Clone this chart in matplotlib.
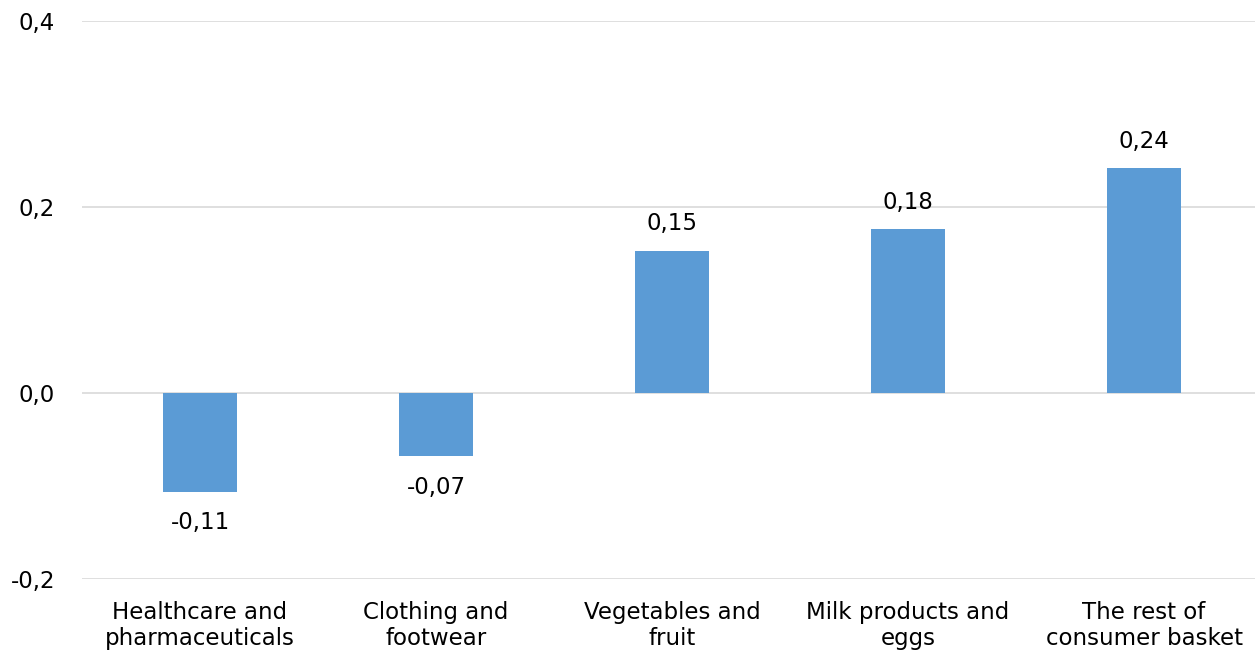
import matplotlib.pyplot as plt

categories = [
    "Healthcare and\npharmaceuticals",
    "Clothing and\nfootwear",
    "Vegetables and\nfruit",
    "Milk products and\neggs",
    "The rest of\nconsumer basket",
]
values = [-0.106, -0.068, 0.153, 0.176, 0.242]
yticks = [-0.2, 0.0, 0.2, 0.4]

BAR_COLOR = "#5b9bd5"
GRID_COLOR = "#d9d9d9"
FS = 16.5

plt.rcParams["font.family"] = ["DejaVu Sans"]

fig = plt.figure(figsize=(12.55, 6.55), dpi=100)
ax = fig.add_axes([82 / 1255, 76 / 655, 1180 / 1255, 558 / 655])

x = range(len(categories))
ax.bar(x, values, width=0.31, color=BAR_COLOR, zorder=3)

for xi, v in zip(x, values):
    label = f"{v:.2f}".replace(".", ",")
    if v >= 0:
        ax.annotate(label, (xi, v), xytext=(0, 11), textcoords="offset points",
                    ha="center", va="bottom", fontsize=FS, color="#000000")
    else:
        ax.annotate(label, (xi, v), xytext=(0, -14), textcoords="offset points",
                    ha="center", va="top", fontsize=FS, color="#000000")

ax.set_xlim(-0.5, len(categories) - 0.5)
ax.set_ylim(-0.2, 0.4)
ax.set_yticks(yticks)
ax.set_yticklabels([f"{t:.1f}".replace(".", ",") for t in yticks], fontsize=FS)
ax.set_xticks(list(x))
ax.set_xticklabels(categories, fontsize=FS, linespacing=1.2)
ax.tick_params(axis="both", length=0)
ax.tick_params(axis="y", pad=19.5)
ax.tick_params(axis="x", pad=15.5)
ax.yaxis.grid(True, color=GRID_COLOR, linewidth=1.2, zorder=0)
ax.set_axisbelow(True)
for spine in ax.spines.values():
    spine.set_visible(False)

fig.savefig("out.png", dpi=100)
